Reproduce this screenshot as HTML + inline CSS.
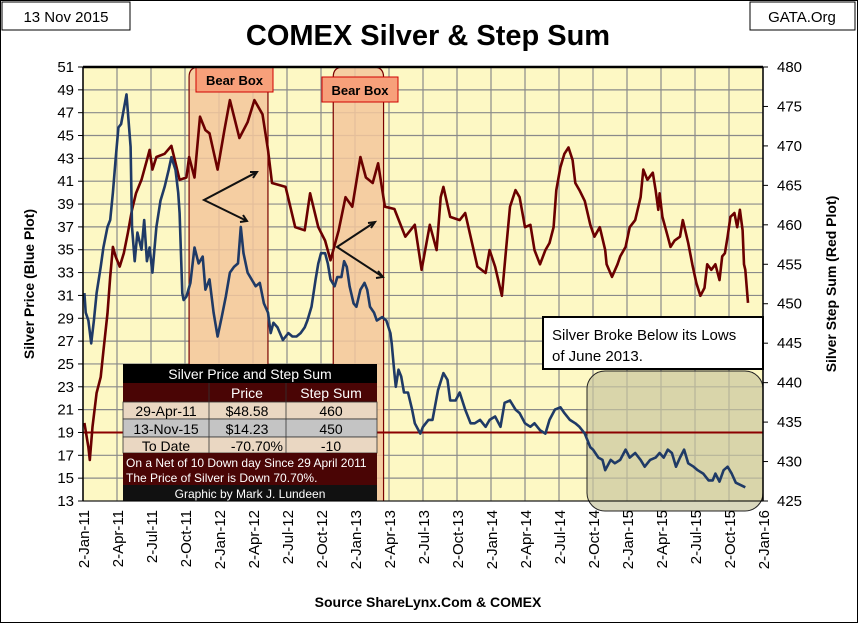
<!DOCTYPE html>
<html><head><meta charset="utf-8"><style>
body{margin:0;background:#fff;}
#wrap{position:relative;width:858px;height:623px;overflow:hidden;font-family:"Liberation Sans",sans-serif;}
svg text{font-family:"Liberation Sans",sans-serif;}
</style></head><body>
<div id="wrap">
<svg id="chart" width="858" height="623" viewBox="0 0 858 623" xmlns="http://www.w3.org/2000/svg">
<rect x="0.5" y="0.5" width="857" height="622" fill="#fff" stroke="#000"/>
<rect x="2" y="2" width="128" height="28" fill="#fff" stroke="#000"/>
<text x="66" y="22" font-size="15" text-anchor="middle">13 Nov 2015</text>
<rect x="750" y="2" width="105" height="28" fill="#fff" stroke="#000"/>
<text x="802" y="22" font-size="15" text-anchor="middle">GATA.Org</text>
<text x="428" y="45" font-size="29" font-weight="bold" text-anchor="middle">COMEX Silver &amp; Step Sum</text>
<rect x="83" y="67" width="680" height="434" fill="#fdf8c4"/>
<g id="grid"></g>
<g id="boxes"></g>
<line id="line19" stroke="#8b0000" stroke-width="2"/>
<path id="redLine" fill="none" stroke="#6b0000" stroke-width="2.6" stroke-linejoin="round"/>
<path id="blueLine" fill="none" stroke="#1f3a66" stroke-width="2.6" stroke-linejoin="round"/>
<g stroke="#111" stroke-width="2" fill="none">
<polyline points="257,172 204,200 247,221"/>
<polyline points="250,172 257,172 253,178"/>
<polyline points="240,222 247,221 243,215"/>
<polyline points="375,222 337,247 383,277"/>
<polyline points="368,223 375,222 371,228"/>
<polyline points="376,278 383,277 378,271"/>
</g>
<rect x="196" y="67" width="77" height="25" fill="#f7a07a" stroke="#d00000"/>
<text x="234.5" y="85" font-size="13" font-weight="bold" text-anchor="middle">Bear Box</text>
<rect x="322" y="77" width="76" height="25" fill="#f7a07a" stroke="#d00000"/>
<text x="360" y="95" font-size="13" font-weight="bold" text-anchor="middle">Bear Box</text>
<rect x="543" y="317" width="220" height="52" fill="#fff" stroke="#000" stroke-width="2"/>
<text x="552" y="340" font-size="15">Silver Broke Below its Lows</text>
<text x="552" y="361" font-size="15">of June 2013.</text>
<g id="table">
<rect x="123" y="364" width="254" height="19" fill="#000"/>
<text x="250" y="379" font-size="14" fill="#fff" text-anchor="middle">Silver Price and Step Sum</text>
<rect x="123" y="383" width="254" height="19" fill="#4a0505"/>
<text x="247" y="398" font-size="14" fill="#fff" text-anchor="middle">Price</text>
<text x="331" y="398" font-size="14" fill="#fff" text-anchor="middle">Step Sum</text>
<rect x="123" y="402" width="254" height="17" fill="#ead7c2" stroke="#333" stroke-width="0.8"/>
<rect x="123" y="419" width="254" height="18" fill="#c4c4c4" stroke="#333" stroke-width="0.8"/>
<rect x="123" y="437" width="254" height="16" fill="#ead7c2" stroke="#333" stroke-width="0.8"/>
<line x1="209" y1="383" x2="209" y2="453" stroke="#333" stroke-width="0.8"/>
<line x1="286" y1="383" x2="286" y2="453" stroke="#333" stroke-width="0.8"/>
<text x="166" y="416" font-size="14" text-anchor="middle">29-Apr-11</text>
<text x="247" y="416" font-size="14" text-anchor="middle">$48.58</text>
<text x="331" y="416" font-size="14" text-anchor="middle">460</text>
<text x="166" y="434" font-size="14" text-anchor="middle">13-Nov-15</text>
<text x="247" y="434" font-size="14" text-anchor="middle">$14.23</text>
<text x="331" y="434" font-size="14" text-anchor="middle">450</text>
<text x="166" y="451" font-size="14" text-anchor="middle">To Date</text>
<text x="283" y="451" font-size="14" text-anchor="end">-70.70%</text>
<text x="331" y="451" font-size="14" text-anchor="middle">-10</text>
<rect x="123" y="453" width="254" height="32" fill="#4a0505"/>
<text x="126" y="467" font-size="12" fill="#fff">On a Net of 10 Down day Since 29 April 2011</text>
<text x="126" y="482" font-size="12" fill="#fff">The Price of Silver is Down 70.70%.</text>
<rect x="123" y="485" width="254" height="16" fill="#111"/>
<text x="250" y="498" font-size="12" fill="#fff" text-anchor="middle">Graphic by Mark J. Lundeen</text>
</g>
<line x1="83" y1="67" x2="763" y2="67" stroke="#000" stroke-width="2.5"/>
<line x1="83" y1="67" x2="83" y2="501" stroke="#000" stroke-width="1.5"/>
<line x1="763" y1="67" x2="763" y2="501" stroke="#000" stroke-width="1.5"/>
<line x1="83" y1="501" x2="763" y2="501" stroke="#000" stroke-width="1"/>
<g id="axes"></g>
<text transform="translate(34,284) rotate(-90)" font-size="14" font-weight="bold" text-anchor="middle">Silver Price   (Blue Plot)</text>
<text transform="translate(836,284) rotate(-90)" font-size="14" font-weight="bold" text-anchor="middle">Silver Step Sum   (Red Plot)</text>
<text x="428" y="607" font-size="14" font-weight="bold" text-anchor="middle">Source ShareLynx.Com &amp; COMEX</text>
</svg>
</div>
<script>
// years since 2-Jan-2011
const blueT=[.01,.02,.04,.06,.08,.10,.13,.15,.18,.20,.22,.24,.26,.28,.32,.35,.36,.38,.40,.43,.45,.47,.49,.51,.54,.57,.60,.63,.65,.68,.70,.71,.73,.74,.76,.79,.82,.85,.88,.90,.93,.96,.99,1.02,1.05,1.08,1.11,1.14,1.16,1.18,1.21,1.24,1.27,1.30,1.33,1.36,1.38,1.40,1.43,1.47,1.51,1.54,1.57,1.60,1.63,1.65,1.68,1.71,1.73,1.75,1.78,1.80,1.82,1.85,1.87,1.90,1.92,1.94,1.96,1.99,2.01,2.04,2.07,2.09,2.11,2.14,2.16,2.20,2.23,2.26,2.27,2.29,2.30,2.32,2.34,2.36,2.39,2.42,2.44,2.48,2.50,2.54,2.57,2.61,2.65,2.68,2.70,2.74,2.77,2.81,2.85,2.88,2.92,2.96,2.99,3.03,3.07,3.10,3.14,3.18,3.21,3.25,3.29,3.32,3.36,3.40,3.43,3.47,3.51,3.54,3.58,3.62,3.65,3.69,3.73,3.75,3.79,3.82,3.84,3.88,3.91,3.95,3.99,4.02,4.06,4.10,4.13,4.17,4.21,4.24,4.27,4.30,4.33,4.36,4.39,4.42,4.45,4.49,4.52,4.56,4.60,4.63,4.65,4.68,4.71,4.74,4.77,4.80,4.87];
const silverPrice=[31.2,29.5,28.8,26.8,28.8,31.2,33.5,35.2,37,37.6,40,42.9,45.7,46,48.6,44,37,34,36.5,35,37.6,34,35.2,33,37,39.3,40.5,42,43.1,42,40,38.2,31.2,30.6,30.9,32.1,35.2,33.8,34.4,31.5,32.4,29.5,27.4,29.1,30.9,33,33.5,33.8,37,34.7,33,32.4,31.8,32.1,30.3,29.5,27.7,28.6,28.2,27.1,27.7,27.4,27.4,27.7,28.2,28.8,30,32.4,33.8,34.7,34.7,33.8,32.4,31.8,32.6,32.6,34,33.5,31.8,30.3,30,31.5,32.1,31.5,30,29.5,28.8,29.1,28.8,27.7,26.8,24.2,23,24.5,23.9,22.5,22.5,21,19.8,18.9,19.5,20.1,20.1,22.7,24.2,23.6,21.8,21.8,22.5,21,19.8,19.8,20.1,19.5,20.1,20.4,19.5,21.6,21.8,21,20.7,19.8,19.5,19.8,19.2,18.9,20.1,21,21.2,20.7,20.1,19.8,19.5,18.9,17.7,17.5,16.8,16.6,15.7,16.6,16.3,16.6,17.5,16.8,17.2,16.6,16,16.6,16.8,17.2,16.8,17.5,17.2,16,16.8,17.5,16.3,16,15.7,15.4,14.8,14.8,15.4,14.7,15.7,16,15.4,14.6,14.2];
const redT=[.01,.04,.05,.07,.10,.13,.15,.18,.20,.22,.24,.27,.30,.33,.36,.39,.43,.47,.49,.51,.54,.60,.65,.71,.76,.78,.82,.86,.90,.93,.99,1.04,1.08,1.15,1.21,1.26,1.32,1.36,1.39,1.49,1.56,1.63,1.67,1.73,1.78,1.82,1.88,1.93,1.98,2.04,2.08,2.13,2.17,2.22,2.29,2.37,2.44,2.49,2.55,2.60,2.63,2.65,2.70,2.77,2.81,2.85,2.90,2.96,2.99,3.03,3.08,3.11,3.14,3.18,3.21,3.25,3.29,3.32,3.36,3.40,3.43,3.46,3.48,3.51,3.54,3.57,3.60,3.62,3.65,3.69,3.73,3.76,3.80,3.84,3.85,3.89,3.93,3.95,3.99,4.02,4.06,4.10,4.12,4.15,4.19,4.21,4.23,4.24,4.26,4.30,4.32,4.35,4.39,4.41,4.45,4.48,4.51,4.54,4.57,4.59,4.62,4.65,4.68,4.70,4.72,4.74,4.76,4.79,4.81,4.83,4.85,4.86,4.87,4.89];
const stepSum=[434.9,431.8,430.2,434.4,438.7,440.7,444,448.8,453.4,457.2,456,454.7,456.4,459,461.9,464,465.7,468.2,469.5,467,468.6,469,470,465.7,466,468.6,466,473.7,472,471.6,467,472,475.8,471,473,475.8,474,469.5,465.3,464.8,459.7,459.3,464,459.7,458,455.5,459.3,463.5,462.3,468.6,466,465.3,467.8,462.3,462,458.5,460,454.3,460,456.8,463.5,464.8,461,460.6,461.5,458.5,454.7,453.9,456.8,454.7,451,456.8,462.3,464.4,463.5,459.7,460,456.8,455,456.8,457.7,459.7,464.4,467.3,469,469.8,468.2,465.3,464.4,463,460,458.5,459.7,456.8,455,453.4,455,456,457.2,459.7,460.6,463.5,467,465.7,466.6,464.4,461.9,464,461,458.5,457.2,458,458.5,460.6,457.7,455,452.6,451,452,455,454.3,455,453,456,456.4,458.5,461,461.5,459.7,461.9,459.3,455,454.3,450.1];
const leftTicks=[13,15,17,19,21,23,25,27,29,31,33,35,37,39,41,43,45,47,49,51];
const rightTicks=[425,430,435,440,445,450,455,460,465,470,475,480];
const xTickLabels=["2-Jan-11","2-Apr-11","2-Jul-11","2-Oct-11","2-Jan-12","2-Apr-12","2-Jul-12","2-Oct-12","2-Jan-13","2-Apr-13","2-Jul-13","2-Oct-13","2-Jan-14","2-Apr-14","2-Jul-14","2-Oct-14","2-Jan-15","2-Apr-15","2-Jul-15","2-Oct-15","2-Jan-16"];
const refLevel=[19];
const bearBoxes=[[0.78,1.36],[1.84,2.21]];

const NS="http://www.w3.org/2000/svg";
const X0=83,X1=763,Y0=67,Y1=501;
const xS=t=>X0+t/5*(X1-X0);
const yL=v=>Y1-(v-13)/38*(Y1-Y0);
const yR=v=>Y1-(v-425)/55*(Y1-Y0);
function mk(tag,attrs,parent){const e=document.createElementNS(NS,tag);for(const k in attrs)e.setAttribute(k,attrs[k]);parent.appendChild(e);return e;}
const grid=document.getElementById('grid'),axes=document.getElementById('axes'),boxes=document.getElementById('boxes');
leftTicks.forEach(v=>{
  const l=mk('line',{x1:X0,x2:X1,y1:yL(v),y2:yL(v),stroke:'#8a8a8a','stroke-width':1.2},grid);
  
  
  const tk=mk('line',{x1:X0-5,x2:X0,y1:yL(v),y2:yL(v),stroke:'#000'},axes);
  
  
  const t=mk('text',{x:X0-9,y:yL(v)+5,'font-size':15,'text-anchor':'end'},axes);
  t.textContent=v;
  
  
});
rightTicks.forEach(v=>{
  const tk=mk('line',{x1:X1,x2:X1+5,y1:yR(v),y2:yR(v),stroke:'#000'},axes);
  
  
  const t=mk('text',{x:X1+14,y:yR(v)+5,'font-size':15},axes);
  t.textContent=v;
  
  
});
xTickLabels.forEach((s,i)=>{
  const x=xS(i*0.25);
  const l=mk('line',{x1:x,x2:x,y1:Y0,y2:Y1,stroke:'#8a8a8a','stroke-width':1.2},grid);
  
  
  const t=mk('text',{transform:`translate(${x+6},${Y1+9}) rotate(-90)`,'font-size':15,'text-anchor':'end'},axes);
  t.textContent=s;
  
  
});
bearBoxes.forEach(b=>{
  const x=xS(b[0]),w=xS(b[1])-xS(b[0]);
  const p=mk('path',{d:`M${x},${Y1} V${Y0+10} Q${x},${Y0} ${x+10},${Y0} H${x+w-10} Q${x+w},${Y0} ${x+w},${Y0+10} V${Y1}`,fill:'#f3c79c','fill-opacity':0.85,stroke:'#7a0000','stroke-width':1.2},boxes);
  
  
});
const gb=mk('rect',{x:587,y:371,width:176,height:140,rx:18,fill:'#c9c6a0','fill-opacity':0.7,stroke:'#222','stroke-width':1},boxes);


const l19=document.getElementById('line19');
l19.setAttribute('x1',X0);l19.setAttribute('x2',X1);
l19.setAttribute('y1',yL(refLevel[0]));l19.setAttribute('y2',yL(refLevel[0]));
document.getElementById('blueLine').setAttribute('d',silverPrice.map((v,i)=>(i?'L':'M')+xS(blueT[i]).toFixed(1)+','+yL(v).toFixed(1)).join(' '));
document.getElementById('redLine').setAttribute('d',stepSum.map((v,i)=>(i?'L':'M')+xS(redT[i]).toFixed(1)+','+yR(v).toFixed(1)).join(' '));
</script>
</body></html>
